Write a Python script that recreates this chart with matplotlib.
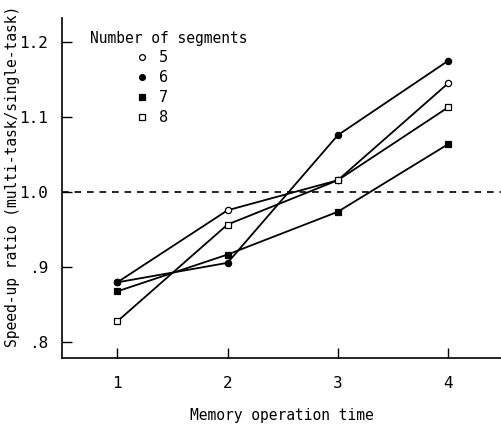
import matplotlib

matplotlib.use("Agg")

import matplotlib.pyplot as plt
from matplotlib.ticker import FixedLocator

plt.rcParams["font.family"] = ["DejaVu Sans Mono"]

# memory operation time on the x axis
mem_time = [1, 2, 3, 4]

# speed-up ratio (multi-task / single-task) per number of segments
seg5 = [0.880, 0.976, 1.016, 1.145]
seg6 = [0.880, 0.906, 1.076, 1.175]
seg7 = [0.868, 0.917, 0.974, 1.064]
seg8 = [0.828, 0.957, 1.016, 1.113]

segment_labels = ["5", "6", "7", "8"]
y_ticks = [0.8, 0.9, 1.0, 1.1, 1.2]
y_tick_labels = [".8", ".9", "1.0", "1.1", "1.2"]
x_ticks = [1, 2, 3, 4]

FS = 10.5


def main() -> None:
    fig = plt.figure(figsize=(5.01, 4.30), dpi=100)
    ax = fig.add_axes([0.124, 0.167, 0.876, 0.791])

    series = [seg5, seg6, seg7, seg8]
    styles = [
        dict(marker="o", mfc="white"),
        dict(marker="o", mfc="black"),
        dict(marker="s", mfc="black"),
        dict(marker="s", mfc="white"),
    ]
    handles = []
    for values, label, style in zip(series, segment_labels, styles):
        ax.plot(mem_time, values, color="black", lw=1.3, ms=4.5, mec="black",
                mew=0.9, zorder=3, **style)
        (h,) = ax.plot([], [], ls="none", color="black", ms=4.2, mec="black",
                       mew=0.9, **style)
        handles.append(h)

    ax.axhline(1.0, color="black", lw=1.2, ls=(0, (4, 3.5)), zorder=2)

    ax.set_xlim(0.5, 4.48)
    ax.set_ylim(0.779, 1.232)
    ax.xaxis.set_major_locator(FixedLocator(x_ticks))
    ax.set_xticklabels([str(t) for t in x_ticks])
    ax.set_yticks(y_ticks)
    ax.set_yticklabels(y_tick_labels)
    ax.tick_params(direction="in", length=7, width=1.0, labelsize=FS + 1)
    ax.tick_params(axis="y", pad=10)
    ax.tick_params(axis="x", pad=13)

    for side in ("top", "right"):
        ax.spines[side].set_visible(False)
    for side in ("left", "bottom"):
        ax.spines[side].set_linewidth(1.2)

    ax.set_xlabel("Memory operation time", fontsize=FS, labelpad=12)
    ax.set_ylabel("Speed-up ratio (multi-task/single-task)", fontsize=FS)
    ax.yaxis.set_label_coords(-0.095, 0.535)

    # legend title sits left of the marker column, as in the original
    ax.text(0.064, 0.941, "Number of segments", transform=ax.transAxes,
            fontsize=FS, ha="left", va="center")
    ax.legend(handles, segment_labels, loc="upper left",
              bbox_to_anchor=(0.168, 0.905), frameon=False,
              handlelength=0.8, handletextpad=0.7, labelspacing=0.32,
              fontsize=FS + 0.5, borderpad=0, borderaxespad=0)

    fig.savefig("out.png", dpi=100)
    plt.close(fig)


if __name__ == "__main__":
    main()
